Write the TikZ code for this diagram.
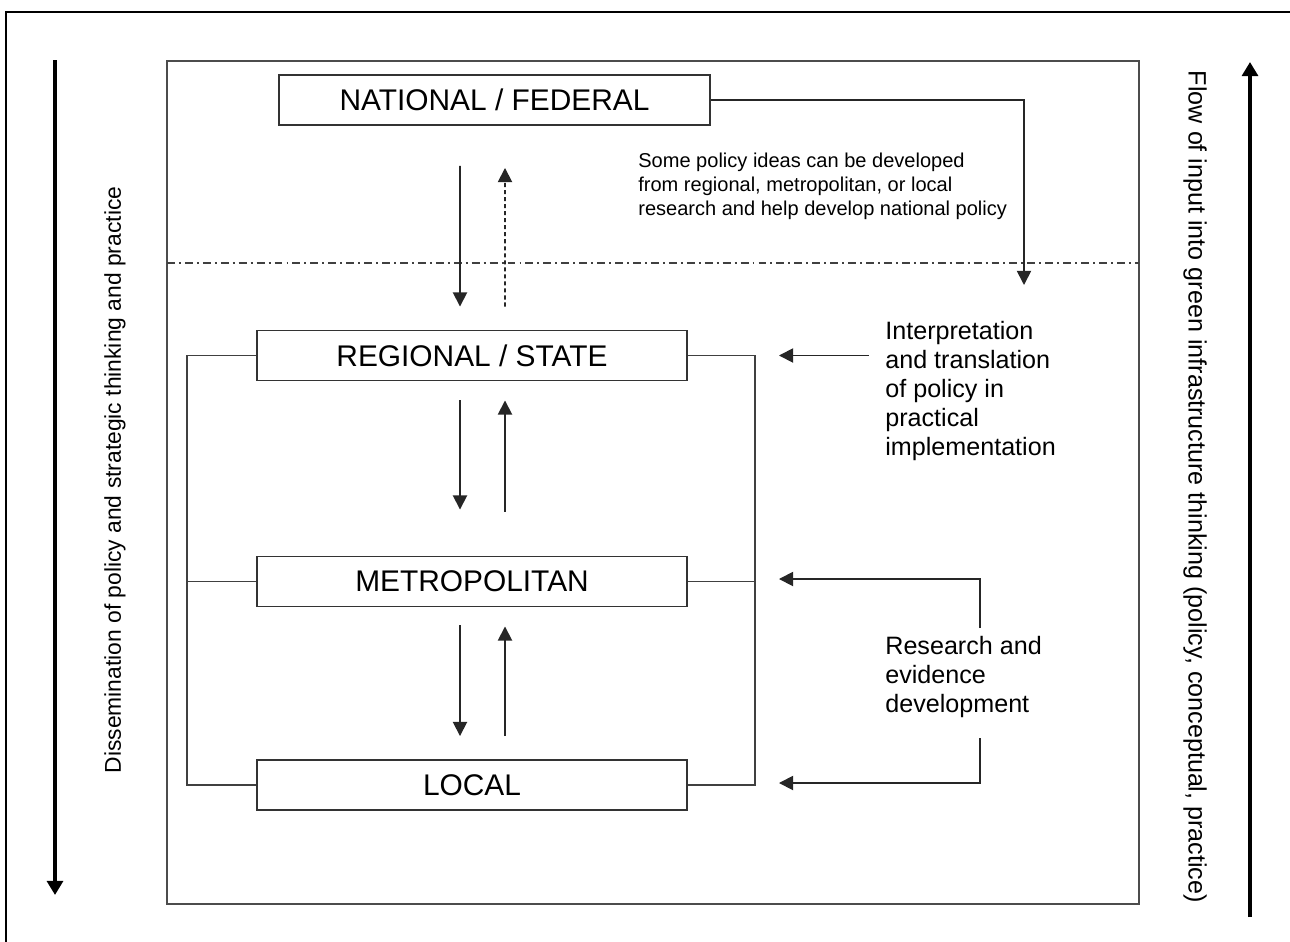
\documentclass[tikz,border=0pt]{standalone}
\usepackage{fontspec}
\setmainfont{Liberation Sans}
\usetikzlibrary{arrows.meta}

\begin{document}
\begin{tikzpicture}[x=0.2mm,y=-0.2mm,level node/.style={draw=black!80, line width=1.1pt, minimum width=8.6cm, minimum height=1.0cm, inner sep=0pt, font=\fontsize{17}{20}\selectfont},note node/.style={align=left, anchor=west, inner sep=0pt, font=\fontsize{14.3}{16.5}\selectfont},small note/.style={align=left, anchor=west, inner sep=0pt, font=\fontsize{11.4}{13.6}\selectfont},side note/.style={inner sep=0pt, font=\fontsize{13}{15}\selectfont},flow/.style={draw=black!85, line width=1pt, -{Triangle[length=8pt,width=8pt]}},link/.style={draw=black!75, line width=1pt},side arrow/.style={line width=2.4pt, -{Triangle[length=8pt,width=9pt]}},frame/.style={draw=black!70, line width=1.2pt}]%
\useasboundingbox (0,0) rectangle (1290,942);%
\draw[line width=1.2pt] (6,12) rectangle (1296,950);%
\draw[frame] (167,61) rectangle (1139,904);%
\draw[black!75, line width=0.8pt, dash pattern=on 4.5pt off 2.3pt on 1.1pt off 2.3pt] (167,263) -- (1139,263);%
  % Levels%
\node[level node, minimum width=8.62cm] (nat) at (494.5,100) {NATIONAL / FEDERAL};%
\node[level node] (reg) at (472,355.5) {REGIONAL / STATE};%
\node[level node] (met) at (472,581.5) {METROPOLITAN};%
\node[level node] (loc) at (472,785) {LOCAL};%
  % Notes%
\node[small note] (ideas) at (638,186) {Some policy ideas can be developed\\from regional, metropolitan, or local\\research and help develop national policy};%
\node[note node] (interp) at (885,391) {Interpretation\\and translation\\of policy in\\practical\\implementation};%
\node[note node] (res) at (885,677) {Research and\\evidence\\development};%
\node[side note, rotate=90] (dis) at (115,480) {Dissemination of policy and strategic thinking and practice};%
\node[side note, rotate=-90, font=\fontsize{14.3}{16}\selectfont] (inp) at (1195,487) {Flow of input into green infrastructure thinking (policy, conceptual, practice)};%
  % Free ends%
\coordinate (natTip) at (1024,285);%
\coordinate (resA) at (980,628);%
\coordinate (resB) at (980,738);%
\coordinate (disTop) at (55,60);%
\coordinate (disEnd) at (55,895);%
\coordinate (inpBot) at (1250,917);%
\coordinate (inpEnd) at (1250,62);%
  % Between levels%
\draw[flow] ([xshift=-0.69cm,yshift=-0.8cm]nat.south) -- ([xshift=-0.24cm,yshift=0.46cm]reg.north);%
\draw[flow, dash pattern=on 2.3pt off 1.7pt] ([xshift=0.66cm,yshift=0.46cm]reg.north) -- ([xshift=0.21cm,yshift=-0.84cm]nat.south);%
\draw[flow] ([xshift=-0.24cm,yshift=-0.38cm]reg.south) -- ([xshift=-0.24cm,yshift=0.92cm]met.north);%
\draw[flow] ([xshift=0.66cm,yshift=0.88cm]met.north) -- ([xshift=0.66cm,yshift=-0.38cm]reg.south);%
\draw[flow] ([xshift=-0.24cm,yshift=-0.36cm]met.south) -- ([xshift=-0.24cm,yshift=0.46cm]loc.north);%
\draw[flow] ([xshift=0.66cm,yshift=0.46cm]loc.north) -- ([xshift=0.66cm,yshift=-0.38cm]met.south);%
  % Brackets%
\draw[link] (reg.west) -- ++(-69,0) |- (loc.west);%
\draw[link] (met.west) -- ++(-69,0);%
\draw[link] (reg.east) -- ++(67,0) |- (loc.east);%
\draw[link] (met.east) -- ++(67,0);%
  % Inputs%
\draw[flow] (nat.east) -| (natTip);%
\draw[flow] ([xshift=3.62cm]reg.east) -- ([xshift=1.82cm]reg.east);%
\draw[flow] (resA) |- ([xshift=1.82cm,yshift=0.05cm]met.east);%
\draw[flow] (resB) |- ([xshift=1.82cm,yshift=0.04cm]loc.east);%
\draw[side arrow] (disTop) -- (disEnd);%
\draw[side arrow] (inpBot) -- (inpEnd);%
\end{tikzpicture}
\end{document}
